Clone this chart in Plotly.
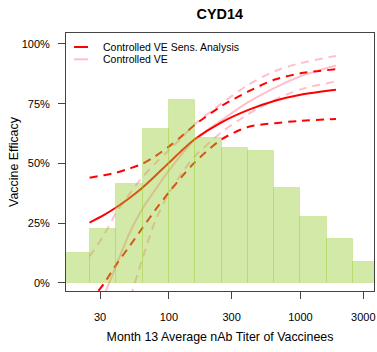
import numpy as np
import plotly.graph_objects as go

# ---- data ----
titer = [25, 32, 40, 50, 63, 79, 100, 126, 158, 251, 398, 631, 1000, 1860]
ve_sens = [25.2, 28.3, 31.6, 35.4, 39.8, 44.8, 50.2, 55.5, 60.2, 67.2, 72.3, 76.1, 78.7, 80.8]
ve_sens_lo = [-8.0, -0.5, 7.7, 15.1, 22.9, 30.5, 37.8, 44.5, 50.5, 60.0, 65.2, 66.8, 67.8, 68.6]
ve_sens_hi = [44.0, 45.0, 46.1, 47.8, 49.8, 53.0, 57.0, 61.5, 66.2, 74.0, 80.0, 85.0, 87.7, 89.4]
ve_ctrl = [-18.0, -5.5, 7.5, 20.5, 31.0, 39.0, 47.0, 54.0, 60.0, 68.0, 75.5, 81.5, 86.5, 91.0]
ve_ctrl_lo = [-80.0, -52.0, -28.0, -8.0, 10.0, 26.0, 37.5, 46.0, 53.0, 63.0, 70.5, 76.5, 81.0, 84.3]
ve_ctrl_hi = [11.0, 19.8, 29.5, 37.0, 44.2, 50.0, 55.5, 61.0, 66.5, 75.0, 82.8, 88.5, 92.0, 95.0]

bin_log10_edges = [1.2, 1.4, 1.6, 1.8, 2.0, 2.2, 2.4, 2.6, 2.8, 3.0, 3.2, 3.4, 3.6]
bar_pct = [12.3, 22.6, 41.4, 64.3, 76.6, 60.8, 56.6, 55.2, 39.7, 27.7, 18.2, 8.8]

x_ticks = [30, 100, 300, 1000, 3000]
y_ticks = [0, 25, 50, 75, 100]
y_tick_text = ["0%", "25%", "50%", "75%", "100%"]

RED = "#FF0000"
PINK = "#FFC0CB"
FONT = "Liberation Sans, Arial, sans-serif"
XR = [1.2188, 3.5584]
YR = [-3.48, 104.6]

fig = go.Figure()

def line(y, color, dash):
    fig.add_trace(go.Scatter(
        x=titer, y=y, mode="lines", showlegend=False, hoverinfo="skip",
        line=dict(color=color, width=2, dash=dash, shape="spline", smoothing=0.8),
        xaxis="x", yaxis="y"))

line(ve_ctrl_hi, PINK, "8px,6px")
line(ve_ctrl_lo, PINK, "8px,6px")
line(ve_ctrl, PINK, "solid")
line(ve_sens_hi, RED, "8px,6px")
line(ve_sens_lo, RED, "8px,6px")
line(ve_sens, RED, "solid")

edges = np.array(bin_log10_edges)
fig.add_trace(go.Bar(
    x=(edges[:-1] + edges[1:]) / 2, y=bar_pct, width=np.diff(edges),
    marker=dict(color="rgba(154,205,50,0.43)",
                line=dict(color="rgba(154,205,50,0.3)", width=1)),
    showlegend=False, hoverinfo="skip", xaxis="x2", yaxis="y2"))

axis_common = dict(showgrid=False, zeroline=False, showline=True, mirror=True,
                   linecolor="#444", linewidth=1, automargin=False)

fig.update_layout(
    width=377, height=352,
    margin=dict(l=66, r=3, t=33, b=61, autoexpand=False),
    paper_bgcolor="white", plot_bgcolor="white",
    font=dict(family=FONT, color="black", size=11),
    title=dict(text="<b>CYD14</b>", x=219.8 / 377, xref="container", xanchor="center",
               y=1 - 14 / 352, yanchor="middle",
               font=dict(family=FONT, size=14.4, color="black"), automargin=False),
    xaxis=dict(type="log", range=XR, tickvals=x_ticks, ticktext=[str(v) for v in x_ticks],
               ticks="outside", ticklen=7, tickcolor="#444", tickwidth=1,
               ticklabelstandoff=9,
               title=dict(text="Month 13 Average nAb Titer of Vaccinees",
                          font=dict(size=12.4), standoff=10),
               **axis_common),
    yaxis=dict(range=YR, tickvals=y_ticks, ticktext=y_tick_text,
               ticks="outside", ticklen=7, tickcolor="#444", tickwidth=1,
               ticklabelstandoff=6,
               title=dict(text="Vaccine Efficacy", font=dict(size=12.4), standoff=0),
               **axis_common),
    xaxis2=dict(overlaying="x", range=XR, visible=False),
    yaxis2=dict(overlaying="y", range=YR, visible=False),
    bargap=0,
    showlegend=False,
)

# legend (drawn manually to match the short line samples)
H = 258.0
W = 308.0
def px2paper(px, py):
    return (px - 66) / W, (291 - py) / H

for (py, color, label) in [(47, RED, "Controlled VE Sens. Analysis"), (59.3, PINK, "Controlled VE")]:
    x0, y0 = px2paper(74, py)
    x1, _ = px2paper(88, py)
    fig.add_shape(type="line", xref="paper", yref="paper", x0=x0, x1=x1, y0=y0, y1=y0,
                  line=dict(color=color, width=2))
    tx, _ = px2paper(100.5, py)
    fig.add_annotation(xref="paper", yref="paper", x=tx, y=y0, text=label, showarrow=False,
                       xanchor="left", yanchor="middle",
                       font=dict(family=FONT, size=10.5, color="black"))

fig.write_html("out.html", config={"displayModeBar": False},
               post_script="document.body.style.margin='0';document.body.style.padding='0';")
